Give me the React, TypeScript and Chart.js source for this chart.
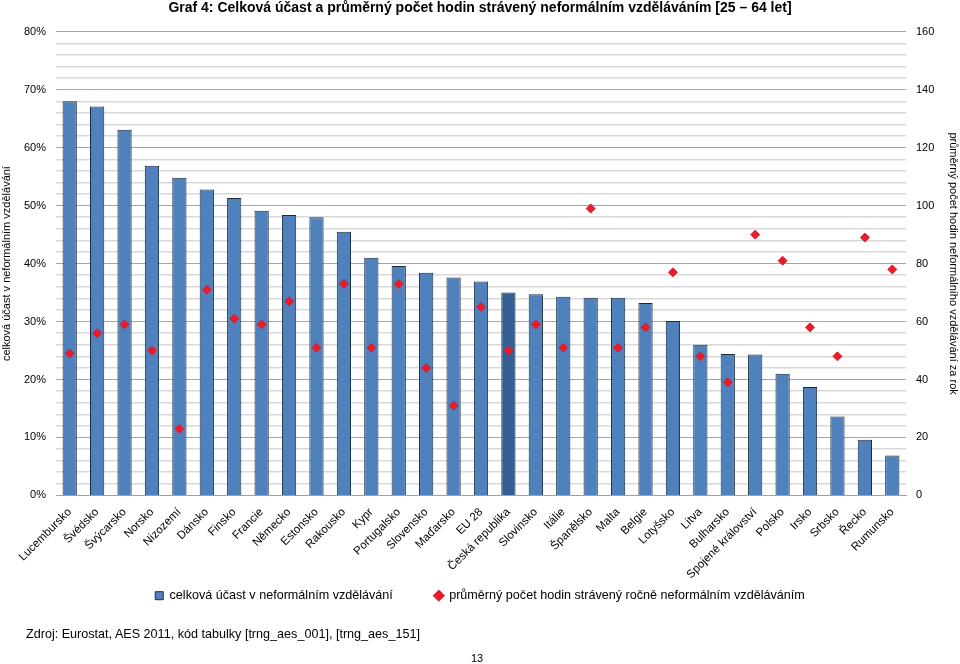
import React, { useEffect, useRef } from "react";
import { Chart, registerables } from "chart.js";

Chart.register(...registerables);

const categories = [
  "Lucembursko", "Švédsko", "Švýcarsko", "Norsko", "Nizozemí", "Dánsko", "Finsko", "Francie",
  "Německo", "Estonsko", "Rakousko", "Kypr", "Portugalsko", "Slovensko", "Maďarsko", "EU 28",
  "Česká republika", "Slovinsko", "Itálie", "Španělsko", "Malta", "Belgie", "Lotyšsko", "Litva",
  "Bulharsko", "Spojené království", "Polsko", "Irsko", "Srbsko", "Řecko", "Rumunsko",
];

const participation = [
  68.0, 67.1, 63.1, 56.9, 54.8, 52.8, 51.3, 49.1, 48.4, 48.0, 45.5, 41.0, 39.6, 38.4, 37.6, 36.9,
  35.0, 34.7, 34.3, 34.1, 34.1, 33.2, 30.1, 26.0, 24.4, 24.3, 21.0, 18.7, 13.6, 9.6, 6.9,
];

const hours = [
  49, 56, 59, 50, 23, 71, 61, 59, 67, 51, 73, 51, 73, 44, 31, 65,
  50, 59, 51, 99, 51, 58, 77, 48, 39, 90, 81, 58, 48, 89, 78,
];

const leftTicks = [0, 10, 20, 30, 40, 50, 60, 70, 80];
const rightTicks = [0, 20, 40, 60, 80, 100, 120, 140, 160];

const titleText = "Graf 4: Celková účast a průměrný počet hodin strávený neformálním vzděláváním [25 – 64 let]";
const barLabel = "celková účast v neformálním vzdělávání";
const pointLabel = "průměrný počet hodin strávený ročně neformálním vzděláváním";
const leftTitle = "celková účast v neformálním vzdělávání";
const rightTitle = "průměrný počet hodin neformálního vzdělávání za rok";
const sourceText = "Zdroj: Eurostat, AES 2011, kód tabulky [trng_aes_001], [trng_aes_151]";
const pageNo = "13";

const highlight = "Česká republika";
const FONT = "'Liberation Sans', Arial, sans-serif";

export default function App() {
  const ref = useRef<HTMLCanvasElement | null>(null);

  useEffect(() => {
    if (!ref.current) return;
    const chart = new Chart(ref.current, {
      type: "bar",
      data: {
        labels: categories,
        datasets: [
          {
            type: "line",
            label: pointLabel,
            data: hours,
            yAxisID: "y1",
            showLine: false,
            pointStyle: "rectRot",
            pointRadius: 4.5,
            pointBackgroundColor: "#ec1c24",
            pointBorderColor: "#d02040",
            pointBorderWidth: 1,
            backgroundColor: "#ec1c24",
            borderColor: "#c0504d",
            order: 0,
          } as any,
          {
            type: "bar",
            label: barLabel,
            data: participation,
            yAxisID: "y",
            backgroundColor: categories.map((c) => (c === highlight ? "#345f94" : "#4f81bd")),
            borderColor: "#1b2a40",
            borderWidth: 1,
            categoryPercentage: 1,
            barPercentage: 0.52,
            pointStyle: "rect",
            order: 1,
          } as any,
        ],
      },
      options: {
        animation: false,
        responsive: true,
        maintainAspectRatio: false,
        layout: { padding: { left: 0, right: 0, top: 0, bottom: 52 } },
        font: { family: FONT },
        plugins: {
          title: {
            display: true,
            text: titleText,
            color: "#000",
            font: { family: FONT, size: 14, weight: "bold" },
            padding: { top: 0, bottom: 15 },
          },
          legend: {
            position: "bottom",
            reverse: true,
            labels: {
              usePointStyle: true,
              boxWidth: 8,
              boxHeight: 8,
              color: "#000",
              padding: 42,
              font: { family: FONT, size: 12.6 },
            },
          },
          tooltip: { enabled: false },
        },
        scales: {
          x: {
            grid: { display: false },
            border: { display: true, color: "#a0a0a0" },
            afterFit: (scale: any) => {
              scale.height = 52;
              scale._computeLabelArea = () => undefined;
            },
            ticks: {
              autoSkip: false,
              maxRotation: 45,
              minRotation: 45,
              color: "#000",
              font: { family: FONT, size: 11.5 },
              padding: 2,
            },
          },
          y: {
            position: "left",
            min: 0,
            max: 80,
            afterBuildTicks: (scale: any) => {
              const t: any[] = [];
              for (let v = 0; v <= 80; v += 2) t.push({ value: v });
              scale.ticks = t;
            },
            afterFit: (scale: any) => {
              scale.width = 56;
            },
            grid: {
              drawTicks: false,
              color: (ctx: any) => (leftTicks.includes(ctx.tick?.value) ? "#a6a6a6" : "#d9d9d9"),
              lineWidth: (ctx: any) => (leftTicks.includes(ctx.tick?.value) ? 1 : 1.5),
            },
            border: { display: false },
            ticks: {
              autoSkip: false,
              color: "#000",
              padding: 10,
              font: { family: FONT, size: 11 },
              callback: (v: any) => (leftTicks.includes(Number(v)) ? v + "%" : ""),
            },
            title: {
              display: true,
              text: leftTitle,
              color: "#000",
              font: { family: FONT, size: 11 },
              padding: { top: 0, bottom: 0 },
            },
          },
          y1: {
            position: "right",
            min: 0,
            max: 160,
            afterBuildTicks: (scale: any) => {
              scale.ticks = rightTicks.map((v) => ({ value: v }));
            },
            afterFit: (scale: any) => {
              scale.width = 54;
            },
            grid: { display: false, drawTicks: false },
            border: { display: false },
            ticks: {
              autoSkip: false,
              color: "#000",
              padding: 10,
              font: { family: FONT, size: 11 },
            },
            title: {
              display: true,
              text: rightTitle,
              color: "#000",
              font: { family: FONT, size: 11 },
              padding: { top: 0, bottom: 0 },
            },
          },
        },
      },
    });
    return () => chart.destroy();
  }, []);

  return (
    <div style={{ position: "absolute", left: 0, top: 0, width: 960, height: 664, background: "#fff", fontFamily: FONT }}>
      <canvas ref={ref} />
      <div style={{ position: "absolute", left: 26, top: 627, fontSize: 12.6, color: "#000" }}>{sourceText}</div>
      <div style={{ position: "absolute", left: 471, top: 652, fontSize: 11, color: "#000" }}>{pageNo}</div>
    </div>
  );
}
